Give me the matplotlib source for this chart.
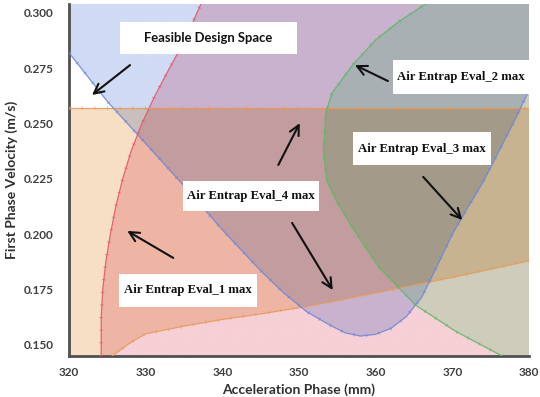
import numpy as np
import matplotlib
matplotlib.use("Agg")
import matplotlib.pyplot as plt
from matplotlib.patches import Rectangle

# ---- data ----
# Eval_1 boundary (x as a function of y); region lies to the right
eval1_y = [0.1450, 0.1625, 0.175, 0.1875, 0.200, 0.2125, 0.225, 0.2375, 0.250, 0.2625, 0.275, 0.2875, 0.304]
eval1_x = [324.2, 324.2, 324.4, 324.8, 325.4, 326.1, 327.0, 328.1, 329.5, 331.2, 333.1, 335.1, 337.2]

# Eval_3 band: flat upper bound and rising lower bound
eval3_top = 0.2568
eval3_x = [325.6, 328.0, 330.0, 335.0, 340.0, 345.0, 350.0, 355.0, 360.0, 365.0, 370.0, 375.0, 380.0]
eval3_low = [0.1450, 0.1510, 0.1550, 0.1585, 0.1615, 0.1640, 0.1668, 0.1700, 0.1735, 0.1770, 0.1805, 0.1842, 0.1880]

# Eval_4 boundary (U shaped); region lies above
eval4_x = [320, 325, 330, 335, 340, 345, 348, 351, 354, 356, 358, 360, 362, 364, 366, 368, 370, 372, 374, 376, 378, 380]
eval4_y = [0.2820, 0.2600, 0.2410, 0.2218, 0.2020, 0.1835, 0.1735, 0.1650, 0.1590, 0.1555, 0.1540, 0.1548,
           0.1575, 0.1628, 0.1715, 0.1855, 0.2000, 0.2120, 0.2235, 0.2370, 0.2505, 0.2650]

# Eval_2 boundary (x as a function of y); region lies to the right
eval2_y = [0.1450, 0.1560, 0.1680, 0.1852, 0.2033, 0.2155, 0.2245, 0.2380, 0.2548, 0.2638, 0.2765, 0.2878, 0.2960, 0.3040]
eval2_x = [376.5, 370.5, 365.2, 360.4, 356.9, 354.8, 353.6, 353.2, 353.5, 354.3, 357.0, 360.0, 363.0, 366.5]

x_ticks = [320, 330, 340, 350, 360, 370, 380]
y_ticks = [0.150, 0.175, 0.200, 0.225, 0.250, 0.275, 0.300]

labels = ["Feasible Design Space", "Air Entrap Eval_2 max", "Air Entrap Eval_3 max",
          "Air Entrap Eval_4 max", "Air Entrap Eval_1 max"]

XMIN, XMAX, YMIN, YMAX = 320, 380, 0.145, 0.304

fig = plt.figure(figsize=(5.4, 3.97), dpi=100)
ax = fig.add_axes([69/540, 41/397, 460/540, 352/397])

# region tints (multiplied where regions overlap)
tint_red = np.array([246, 208, 214]) / 255
tint_orange = np.array([247, 223, 196]) / 255
tint_blue = np.array([208, 219, 245]) / 255
tint_green = np.array([214, 252, 224]) / 255

gx = np.linspace(XMIN, XMAX, 1400)
gy = np.linspace(YMIN, YMAX, 1000)
GX, GY = np.meshgrid(gx, gy)
m_red = GX >= np.interp(GY, eval1_y, eval1_x)
ox = [XMIN] + eval3_x
ol = [YMIN - 0.01] + eval3_low
m_orange = (GY <= eval3_top) & (GY >= np.interp(GX, ox, ol))
m_blue = GY >= np.interp(GX, eval4_x, eval4_y)
m_green = GX >= np.interp(GY, eval2_y, eval2_x)

rgb = np.ones(GX.shape + (3,))
for m, t in [(m_red, tint_red), (m_orange, tint_orange), (m_blue, tint_blue), (m_green, tint_green)]:
    rgb[m] *= t
ax.imshow(rgb, extent=[XMIN, XMAX, YMIN, YMAX], origin="lower", aspect="auto",
          interpolation="antialiased", zorder=1)
ax.set_xlim(XMIN, XMAX)
ax.set_ylim(YMIN, YMAX)


def boundary(x, y, color):
    ax.plot(x, y, color=color, lw=0.9, alpha=0.9, zorder=5, solid_capstyle="butt")
    ax.plot(x, y, color=color, lw=2.6, alpha=0.6, zorder=5, linestyle=(0, (0.3, 3.2)),
            dash_capstyle="butt")


boundary(eval1_x, eval1_y, "#e0586c")
boundary([XMIN, XMAX], [eval3_top, eval3_top], "#e89a5a")
boundary(eval3_x, eval3_low, "#e89a5a")
boundary(eval4_x, eval4_y, "#6f86d8")
boundary(eval2_x, eval2_y, "#5fb865")

# label boxes (x0, x1, y0, y1 in data units) and text
serif = dict(family=["Liberation Serif", "DejaVu Serif"], weight="bold", size=9.2, color="#111111")
sans = dict(family=["Lato", "DejaVu Sans"], weight="bold", size=9.4, color="#111111")

boxes = [
    ((326.65, 349.74, 0.2814, 0.2959), (338.2, 0.2886), sans),
    ((362.26, 380.0, 0.2633, 0.2787), (371.13, 0.2710), serif),
    ((357.04, 375.04, 0.2313, 0.2462), (366.04, 0.2387), serif),
    ((334.87, 352.61, 0.2105, 0.2240), (343.74, 0.2173), serif),
    ((326.52, 344.52, 0.1671, 0.1820), (335.52, 0.1746), serif),
]
for (x0, x1, y0, y1), (tx, ty), fnt in boxes:
    ax.add_patch(Rectangle((x0, y0), x1 - x0, y1 - y0, facecolor="white", edgecolor="none",
                           zorder=8, clip_on=False))
for lab, (_, (tx, ty), fnt) in zip(labels, boxes):
    ax.text(tx, ty, lab, ha="center", va="center", zorder=9, **fnt)

arrows = [
    ((327.96, 0.2764), (323.0, 0.2629)),
    ((361.6, 0.2692), (357.3, 0.2764)),
    ((366.2, 0.2259), (371.3, 0.2064)),
    ((347.3, 0.2313), (350.1, 0.2502)),
    ((349.1, 0.2051), (354.4, 0.1748)),
    ((333.6, 0.1893), (327.6, 0.2015)),
]
for (x0, y0), (x1, y1) in arrows:
    ax.annotate("", xy=(x1, y1), xytext=(x0, y0), zorder=10,
                arrowprops=dict(arrowstyle="->,head_length=0.7,head_width=0.35",
                                color="#111111", lw=1.5, shrinkA=0, shrinkB=0))

# axes styling
for s in ["top", "right"]:
    ax.spines[s].set_visible(False)
for s in ["left", "bottom"]:
    ax.spines[s].set_color("#505050")
    ax.spines[s].set_linewidth(2.0)
ax.set_xticks(x_ticks)
ax.set_yticks(y_ticks)
ax.set_xticklabels([str(v) for v in x_ticks])
ax.set_yticklabels([f"{v:.3f}" for v in y_ticks])
ax.tick_params(length=0, labelsize=8.5, labelcolor="#404040")
ax.tick_params(axis="y", pad=11)
ax.tick_params(axis="x", pad=8)
for t in ax.get_xticklabels() + ax.get_yticklabels():
    t.set_fontfamily(["Lato", "DejaVu Sans"])
    t.set_fontweight("bold")
ax.set_xlabel("Acceleration Phase (mm)", family=["Lato", "DejaVu Sans"], weight="bold",
              size=10, color="#303030", labelpad=4)
ax.set_ylabel("First Phase Velocity (m/s)", family=["Lato", "DejaVu Sans"], weight="bold",
              size=10, color="#303030", labelpad=4)

fig.savefig("out.png", dpi=100)
